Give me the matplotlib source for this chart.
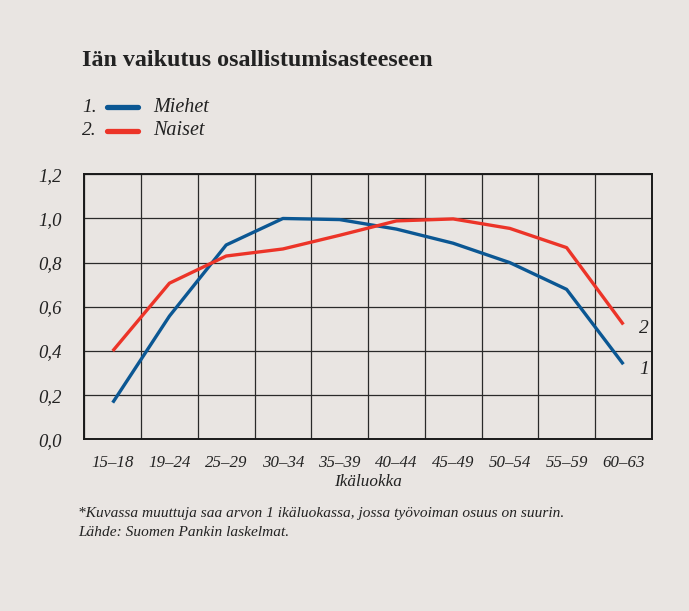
import matplotlib.pyplot as plt
import numpy as np

BG = "#e9e5e2"
BLUE = "#0b5793"
RED = "#ec3428"

age_groups = ["15–18", "19–24", "25–29", "30–34", "35–39",
              "40–44", "45–49", "50–54", "55–59", "60–63"]
miehet = [0.166, 0.558, 0.88, 1.0, 0.995, 0.952, 0.888, 0.80, 0.679, 0.34]
naiset = [0.40, 0.707, 0.83, 0.862, 0.924, 0.989, 0.998, 0.955, 0.868, 0.52]
y_ticks = [0.0, 0.2, 0.4, 0.6, 0.8, 1.0, 1.2]

plt.rcParams['font.family'] = ['Liberation Serif', 'DejaVu Serif']

fig = plt.figure(figsize=(6.89, 6.11), dpi=100, facecolor=BG)
ax = fig.add_axes([0.1224, 0.281, 0.8235, 0.4337], facecolor=BG)

x = np.arange(len(age_groups)) + 0.5
ax.plot(x, miehet, color=BLUE, lw=2.4, solid_capstyle='butt', zorder=3)
ax.plot(x, naiset, color=RED, lw=2.4, solid_capstyle='butt', zorder=3)

ax.set_xlim(0, len(age_groups))
ax.set_ylim(0, 1.2)
ax.set_xticks(np.arange(len(age_groups) + 1), minor=False)
ax.set_xticklabels([])
ax.set_xticks(x, minor=True)
ax.set_xticklabels(age_groups, minor=True, fontstyle='italic', fontsize=12.2, color="#222222")
ax.set_yticks(y_ticks)
ax.set_yticklabels([f"{v:.1f}".replace(".", ",") for v in y_ticks],
                   fontstyle='italic', fontsize=13.5, color="#222222")
ax.tick_params(axis='both', which='both', length=0)
ax.tick_params(axis='x', which='minor', pad=11)
ax.tick_params(axis='y', pad=16)
ax.grid(True, which='major', color="#2a2a2a", lw=0.9)
ax.set_axisbelow(True)
for s in ax.spines.values():
    s.set_color("#1a1a1a")
    s.set_linewidth(1.4)

ax.set_xlabel("Ikäluokka", fontstyle='italic', fontsize=12.3, color="#222222", labelpad=2.5)

ax.text(len(age_groups) - 0.22, naiset[-1] - 0.02, "2", fontstyle='italic', fontsize=14,
        va='center', ha='left', color="#222222")
ax.text(len(age_groups) - 0.22, miehet[-1] - 0.025, "1", fontstyle='italic', fontsize=14,
        va='center', ha='left', color="#222222")

fig.text(82 / 689, 1 - 61 / 611, "Iän vaikutus osallistumisasteeseen",
         fontsize=17.3, fontweight='bold', va='center', ha='left', color="#222222")

for i, (lab, col) in enumerate([("Miehet", BLUE), ("Naiset", RED)]):
    yy = 1 - (107 + 23.5 * i) / 611
    fig.text(82 / 689, yy, f"{i + 1}.", fontstyle='italic', fontsize=14,
             va='center', ha='left', color="#222222")
    fig.add_artist(plt.Line2D([107 / 689, 138 / 689], [yy, yy], color=col, lw=3.8,
                              solid_capstyle='round', transform=fig.transFigure))
    fig.text(153 / 689, yy, lab, fontstyle='italic', fontsize=14.5,
             va='center', ha='left', color="#222222")

fig.text(78 / 689, 1 - 513 / 611,
         "*Kuvassa muuttuja saa arvon 1 ikäluokassa, jossa työvoiman osuus on suurin.",
         fontstyle='italic', fontsize=11.1, va='center', ha='left', color="#222222")
fig.text(78 / 689, 1 - 532 / 611, "Lähde: Suomen Pankin laskelmat.",
         fontstyle='italic', fontsize=11.1, va='center', ha='left', color="#222222")

fig.savefig("out.png", dpi=100, facecolor=BG)
